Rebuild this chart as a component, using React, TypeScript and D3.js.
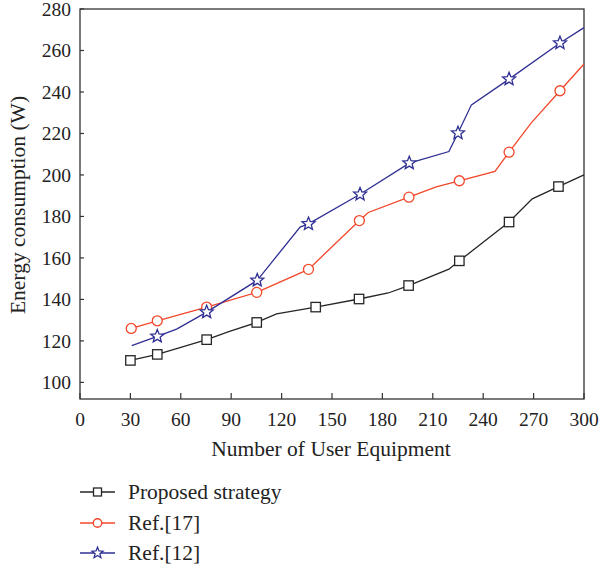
import React from "react";
import * as d3 from "d3";

// ---- data ----
const xTicks = [0, 30, 60, 90, 120, 150, 180, 210, 240, 270, 300];
const yTicks = [100, 120, 140, 160, 180, 200, 220, 240, 260, 280];

const proposedX = [30, 46, 59, 75.4, 89, 105.2, 117, 140.3, 166.1, 183.5, 195.6, 219.6, 225.8, 255.4, 269.2, 284.8, 300];
const proposedY = [110.6, 113.5, 116.6, 120.6, 124.6, 128.9, 133, 136.3, 140.2, 143.1, 146.7, 154.6, 158.6, 177.3, 188.5, 194.4, 200];
const proposedMark = [1, 1, 0, 1, 0, 1, 0, 1, 1, 0, 1, 0, 1, 1, 0, 1, 0];

const ref17X = [30.5, 46, 75.4, 105.2, 136, 166.3, 171.6, 195.8, 212, 225.8, 247, 255.4, 268.5, 285.7, 300];
const ref17Y = [126, 129.7, 136.3, 143.4, 154.5, 178, 181.9, 189.3, 194.3, 197.2, 201.7, 211, 225, 240.6, 253.5];
const ref17Mark = [1, 1, 1, 1, 1, 1, 0, 1, 0, 1, 0, 1, 0, 1, 0];

const ref12X = [30.8, 46, 57.5, 75.4, 105.5, 131, 136, 166.7, 196, 219.6, 225, 233, 255.4, 285.7, 300];
const ref12Y = [117.7, 122.2, 125.7, 133.9, 149.2, 174.9, 176.4, 190.7, 205.7, 211.3, 220.2, 233.8, 246.2, 263.6, 271];
const ref12Mark = [0, 1, 0, 1, 1, 0, 1, 1, 1, 0, 1, 0, 1, 1, 0];

const seriesNames = ["Proposed strategy", "Ref.[17]", "Ref.[12]"];

// ---- layout ----
const W = 600, H = 567;
const L = 80, R = 584, T = 9, B = 399;
const FONT = "'Liberation Serif', 'Times New Roman', serif";
const COLORS = ["#262626", "#f2472a", "#2f2f93"];

const x = d3.scaleLinear().domain([0, 300]).range([L, R]);
const y = d3.scaleLinear().domain([92, 280]).range([B, T]);

function starPath(cx: number, cy: number, ro: number, ri: number) {
  const pts: string[] = [];
  for (let i = 0; i < 10; i++) {
    const r = i % 2 === 0 ? ro : ri;
    const a = -Math.PI / 2 + (i * Math.PI) / 5;
    pts.push(`${cx + r * Math.cos(a)},${cy + r * Math.sin(a)}`);
  }
  return "M" + pts.join("L") + "Z";
}

function Marker({ kind, cx, cy, color, s = 1 }: { kind: number; cx: number; cy: number; color: string; s?: number }) {
  if (kind === 0)
    return <rect x={cx - 4.7 * s} y={cy - 4.7 * s} width={9.4 * s} height={9.4 * s} fill="white" stroke={color} strokeWidth={1.3} />;
  if (kind === 1) return <circle cx={cx} cy={cy} r={5 * s} fill="white" stroke={color} strokeWidth={1.3} />;
  return <path d={starPath(cx, cy, 6.8 * s, 3 * s)} fill="white" stroke={color} strokeWidth={1.3} />;
}

const series = [
  { xs: proposedX, ys: proposedY, ms: proposedMark },
  { xs: ref17X, ys: ref17Y, ms: ref17Mark },
  { xs: ref12X, ys: ref12Y, ms: ref12Mark },
];

export default function App() {
  const line = d3
    .line<[number, number]>()
    .x((d) => x(d[0]))
    .y((d) => y(d[1]));

  return (
    <svg width={W} height={H} style={{ position: "absolute", left: 0, top: 0 }} fontFamily={FONT}>
      <rect width={W} height={H} fill="white" />
      {/* frame */}
      <rect x={L} y={T} width={R - L} height={B - T} fill="none" stroke="#333" strokeWidth={1.3} />
      {/* y ticks */}
      {yTicks.map((t) => (
        <g key={"y" + t}>
          <line x1={L} x2={L + 4} y1={y(t)} y2={y(t)} stroke="#333" strokeWidth={1.2} />
          <text x={L - 9} y={y(t)} dy={7} textAnchor="end" fontSize={19.5} fill="#222">
            {t}
          </text>
        </g>
      ))}
      {/* x ticks */}
      {xTicks.map((t) => (
        <g key={"x" + t}>
          <line x1={x(t)} x2={x(t)} y1={B} y2={B - 6} stroke="#333" strokeWidth={1.2} />
          <text x={x(t)} y={426} textAnchor="middle" fontSize={19.5} fill="#222">
            {t}
          </text>
        </g>
      ))}
      <text x={(L + R) / 2 - 1} y={456} textAnchor="middle" fontSize={21.5} fill="#222">
        Number of User Equipment
      </text>
      <text transform={`translate(25,${(T + B) / 2 + 1}) rotate(-90)`} textAnchor="middle" fontSize={21.5} fill="#222">
        Energy consumption (W)
      </text>
      {/* series */}
      {series.map((s, si) => {
        const pts = s.xs.map((v, i) => [v, s.ys[i]] as [number, number]);
        return (
          <g key={"s" + si}>
            <path d={line(pts) || ""} fill="none" stroke={COLORS[si]} strokeWidth={1.3} />
            {pts.map((p, i) =>
              s.ms[i] ? <Marker key={i} kind={si} cx={x(p[0])} cy={y(p[1])} color={COLORS[si]} /> : null
            )}
          </g>
        );
      })}
      {/* legend */}
      {seriesNames.map((n, i) => {
        const ly = [492, 523, 553][i];
        return (
          <g key={"l" + i}>
            <line x1={80} x2={115} y1={ly} y2={ly} stroke={COLORS[i]} strokeWidth={1.3} />
            <Marker kind={i} cx={97.5} cy={ly} color={COLORS[i]} s={0.85} />
            <text x={128} y={ly + 7} fontSize={21.5} fill="#222">
              {n}
            </text>
          </g>
        );
      })}
    </svg>
  );
}
